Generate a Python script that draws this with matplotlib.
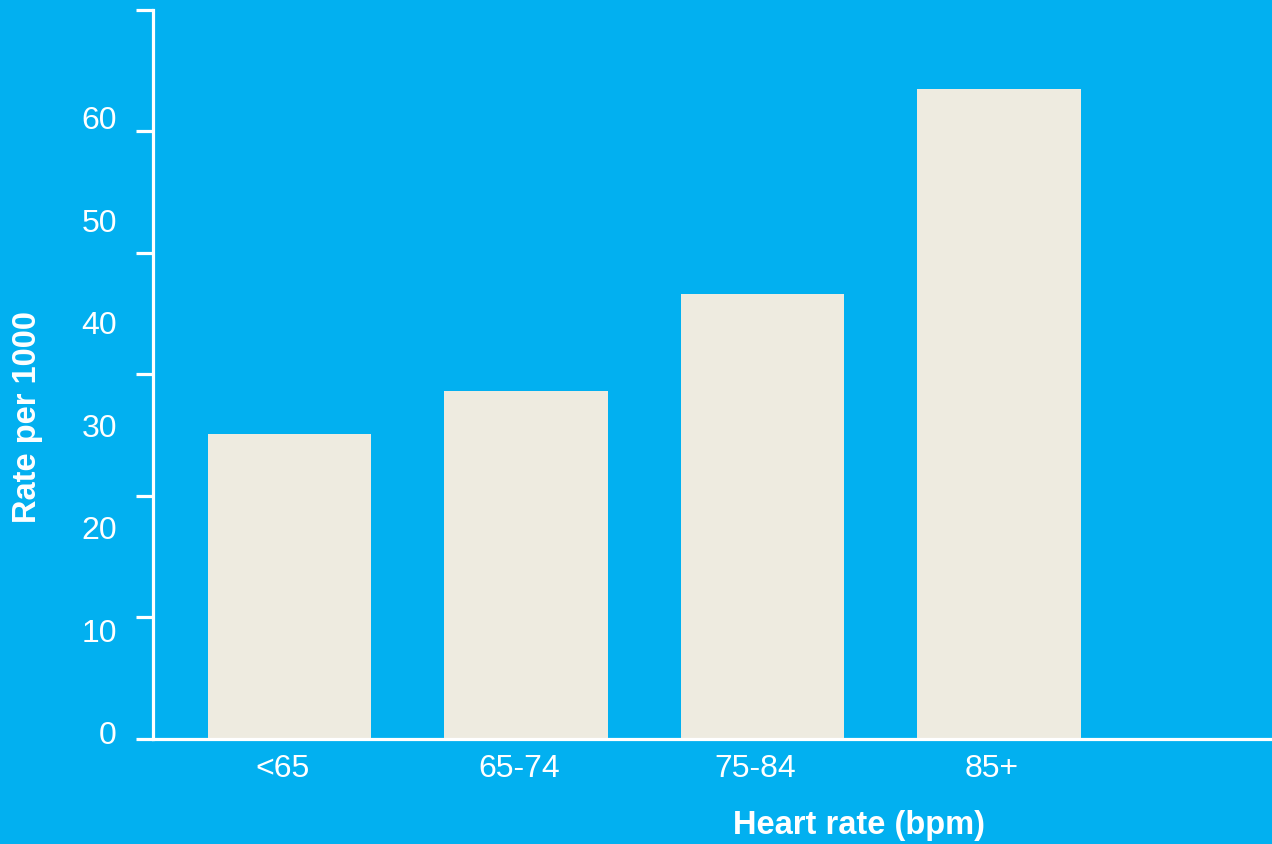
import matplotlib

matplotlib.use("Agg")

import matplotlib.pyplot as plt
import numpy as np

plt.rcParams["font.family"] = ["Liberation Sans", "DejaVu Sans"]

BG = "#02B0F0"
BAR = "#EEEBE0"

categories = ["<65", "65-74", "75-84", "85+"]
rates = [29.7, 33.9, 43.4, 63.4]
label_values = [0, 10, 20, 30, 40, 50, 60]

Y_MAX = 71.1
LABEL_SHIFT = 0.7  # labels sit a little above their tick marks in the original

fig = plt.figure(figsize=(12.72, 8.45), dpi=100, facecolor=BG)
ax = fig.add_axes([0.1203, 0.1243, 0.8797, 0.8627])
ax.set_facecolor(BG)

x = np.arange(len(categories))
ax.bar(x, rates, width=0.69, color=BAR, zorder=2)

ax.set_xlim(-0.577, 4.154)
ax.set_ylim(0, Y_MAX)

# tick marks evenly spaced over the axis, labels on their own scale
ax.set_yticks(np.linspace(0, Y_MAX, 7))
ax.set_yticklabels([])
ax.set_yticks([v + LABEL_SHIFT for v in label_values], minor=True)
ax.set_yticklabels([str(v) for v in label_values], minor=True)
ax.tick_params(axis="y", which="major", length=12, width=2.3, color="white")
ax.tick_params(axis="y", which="minor", length=0, pad=26, labelsize=23, labelcolor="white")

ax.set_xticks(x - 0.03)
ax.set_xticklabels(categories)
ax.tick_params(axis="x", length=0, pad=10, labelsize=23, labelcolor="white")

for side in ["top", "right"]:
    ax.spines[side].set_visible(False)
for side in ["left", "bottom"]:
    ax.spines[side].set_color("white")
    ax.spines[side].set_linewidth(2.3)
    ax.spines[side].set_zorder(3)

fig.text(859 / 1272, 1 - 826 / 845, "Heart rate (bpm)", color="white",
         fontsize=23.5, fontweight="bold", ha="center", va="center")
fig.text(28 / 1272, 1 - 417 / 845, "Rate per 1000", color="white",
         fontsize=23.5, fontweight="bold", ha="center", va="center", rotation=90)

fig.savefig("out.png", dpi=100, facecolor=BG)
